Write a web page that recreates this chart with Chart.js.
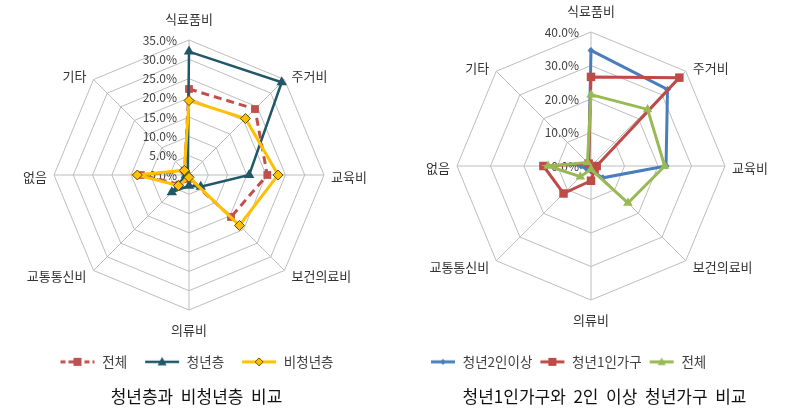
<!DOCTYPE html>
<html><head><meta charset="utf-8">
<script src="https://cdn.jsdelivr.net/npm/chart.js@4.4.0/dist/chart.umd.min.js"></script>
<style>
html,body{margin:0;padding:0;background:#fff;}
#wrap{position:relative;width:786px;height:411px;overflow:hidden;}
.box{position:absolute;top:0;width:393px;height:411px;}
</style></head><body>
<div id="wrap">
<div class="box" style="left:0"><canvas id="c1"></canvas></div>
<div class="box" style="left:393px"><canvas id="c2"></canvas></div>
</div>
<script>
// ---- data ----
const categories = ['식료품비','주거비','교육비','보건의료비','의류비','교통통신비','없음','기타'];
const leftTicks = [0,5,10,15,20,25,30,35];
const rightTicks = [0,10,20,30,40];
const leftSeriesNames = ['전체','청년층','비청년층'];
const left_total    = [22.3,24.2,20.3,15.4,1.0,3.5,12.5,1.6];
const left_youth    = [32.0,34.0,15.6,4.3,2.8,6.3,0.8,0.5];
const left_nonyouth = [19.3,20.7,23.1,18.5,0.6,3.9,13.4,1.7];
const rightSeriesNames = ['청년2인이상','청년1인가구','전체'];
const right_multi  = [34.5,32.3,22.4,5.0,1.5,1.5,3.0,1.0];
const right_single = [26.6,37.3,1.7,1.5,4.4,11.6,14.2,1.0];
const right_total  = [21.3,23.9,22.0,15.6,1.0,4.5,12.8,1.5];
const leftCaption = '청년층과  비청년층  비교';
const rightCaption = '청년1인가구와  2인  이상  청년가구  비교';

const FONT = '"Noto Sans CJK KR", "Noto Sans", sans-serif';
const LEGEND_SIZE = 13.5;

function drawMarker(x, kind, cx, cy, r, fill, stroke, bw) {
  x.fillStyle = fill; x.strokeStyle = stroke; x.lineWidth = bw;
  x.beginPath();
  if (kind === 'rect') { x.rect(cx-r, cy-r, 2*r, 2*r); }
  else if (kind === 'triangle') { x.moveTo(cx, cy-r*1.1); x.lineTo(cx+r, cy+r*0.8); x.lineTo(cx-r, cy+r*0.8); x.closePath(); }
  else if (kind === 'rectRot') { x.moveTo(cx, cy-r); x.lineTo(cx+r, cy); x.lineTo(cx, cy+r); x.lineTo(cx-r, cy); x.closePath(); }
  x.fill(); if (bw > 0) x.stroke();
}
function icon(w, color, dash, lw, kind, r, fill, stroke, bw) {
  const c = document.createElement('canvas'); c.width = w; c.height = 14;
  const x = c.getContext('2d');
  x.strokeStyle = color; x.lineWidth = lw; x.setLineDash(dash);
  x.beginPath(); x.moveTo(1, 7); x.lineTo(w - 1, 7); x.stroke();
  x.setLineDash([]);
  drawMarker(x, kind, w / 2, 7, r, fill, stroke, bw);
  return c;
}

// empty layout box on the right, to shift the plot area without moving legend/caption
function spacer(width) {
  return { id: 'spacer', beforeInit(chart) {
    Chart.layouts.addBox(chart, {
      position: 'right', weight: 0, fullSize: false, options: {},
      width: 0, height: 0,
      update(maxW, maxH) { this.width = width; this.height = maxH; },
      isHorizontal() { return false; },
      draw() {}
    });
  }};
}

function manualLabels(ticksArr) {
  return {
    id: 'manualLabels',
    beforeDatasetsDraw(chart) {
      const s = chart.scales.r, ctx = chart.ctx, R = s.drawingArea;
      ctx.save();
      ctx.font = '12px ' + FONT;
      ctx.fillStyle = '#404040'; ctx.textAlign = 'right'; ctx.textBaseline = 'middle';
      ticksArr.forEach(v => {
        const d = s.getDistanceFromCenterForValue(v);
        ctx.fillText(v.toFixed(1) + '%', s.xCenter - 12, s.yCenter - d);
      });
      ctx.font = '13px ' + FONT; ctx.fillStyle = '#333';
      categories.forEach((lab, i) => {
        const p = s.getPointPosition(i, R);
        let x = p.x, y = p.y, align;
        const dx = p.x - s.xCenter, dy = p.y - s.yCenter;
        if (Math.abs(dx) < 1) { align = 'center'; y += (dy < 0 ? -21 : 20); }
        else {
          align = dx > 0 ? 'left' : 'right';
          x += dx > 0 ? 7 : -7;
          y += Math.abs(dy) < 1 ? 2 : (dy < 0 ? -3 : 6);
        }
        ctx.textAlign = align; ctx.fillText(lab, x, y);
      });
      ctx.restore();
    }
  };
}

function makeChart(id, ticksArr, maxV, datasets, icons, iconW, legPad, legGap, legAlign, caption, pad, spaceRight) {
  return new Chart(document.getElementById(id), {
    type: 'radar',
    data: { labels: categories, datasets },
    plugins: [manualLabels(ticksArr), spacer(spaceRight)],
    options: {
      responsive: true, maintainAspectRatio: false, animation: false,
      layout: { padding: pad },
      elements: { line: { tension: 0, fill: false } },
      scales: { r: {
        min: 0, max: maxV,
        afterBuildTicks: s => { s.ticks = ticksArr.map(v => ({ value: v })); },
        ticks: { display: false },
        grid: { color: '#BDBDBD', lineWidth: 1 },
        angleLines: { color: '#BDBDBD', lineWidth: 1 },
        pointLabels: { display: false }
      } },
      plugins: {
        tooltip: { enabled: false },
        legend: {
          position: 'bottom', align: legAlign,
          title: { display: true, text: '', font: { size: 10 }, padding: { top: 0, bottom: legGap } },
          labels: {
            usePointStyle: true, pointStyleWidth: iconW, padding: legPad,
            font: { size: LEGEND_SIZE, family: FONT }, color: '#404040',
            sort: (a, b) => a.datasetIndex - b.datasetIndex,
            generateLabels: chart => Chart.defaults.plugins.legend.labels.generateLabels(chart)
              .map(it => Object.assign(it, { pointStyle: icons[it.datasetIndex] }))
          }
        },
        title: {
          display: true, position: 'bottom', text: caption,
          font: { size: 17, family: FONT, weight: 'normal' }, color: '#111',
          padding: { top: 8, bottom: 4 }
        }
      }
    }
  });
}

const leftIcons = [
  icon(36, '#C0504D', [5,3], 3, 'rect', 4, '#C0504D', '#C0504D', 0),
  icon(36, '#215868', [], 2.5, 'triangle', 4.5, '#215868', '#215868', 0),
  icon(36, '#FFC000', [], 3, 'rectRot', 4, '#FFC000', '#5F4B00', 1)
];
// legend item height grows by 1 with the larger font: reduce the spacer title by 1
makeChart('c1', leftTicks, 35, [
  { label: leftSeriesNames[0], data: left_total, borderColor: '#C0504D', borderWidth: 3, borderDash: [8,5],
    pointStyle: 'rect', pointRadius: 5.5, pointBackgroundColor: '#C0504D', pointBorderColor: '#C0504D', pointBorderWidth: 0, order: 2 },
  { label: leftSeriesNames[1], data: left_youth, borderColor: '#215868', borderWidth: 2.5,
    pointStyle: 'triangle', pointRadius: 6, pointBackgroundColor: '#215868', pointBorderColor: '#215868', pointBorderWidth: 0, order: 1 },
  { label: leftSeriesNames[2], data: left_nonyouth, borderColor: '#FFC000', borderWidth: 3,
    pointStyle: 'rectRot', pointRadius: 5, pointBackgroundColor: '#FFC000', pointBorderColor: '#5F4B00', pointBorderWidth: 1, order: 0 }
], leftIcons, 36, 17, 16.1, 'center', leftCaption, { top: 40, bottom: 0, left: 0, right: 0 }, 15);

const rightIcons = [
  icon(26, '#4A7EBB', [], 3, 'rectRot', 3, '#4A7EBB', '#4A7EBB', 0),
  icon(26, '#BE4B48', [], 3, 'rect', 4, '#BE4B48', '#BE4B48', 0),
  icon(26, '#98B954', [], 3, 'triangle', 4, '#98B954', '#98B954', 0)
];
makeChart('c2', rightTicks, 40, [
  { label: rightSeriesNames[0], data: right_multi, borderColor: '#4A7EBB', borderWidth: 3,
    pointStyle: 'rectRot', pointRadius: 3.5, pointBackgroundColor: '#4A7EBB', pointBorderColor: '#4A7EBB', pointBorderWidth: 0, order: 2 },
  { label: rightSeriesNames[1], data: right_single, borderColor: '#BE4B48', borderWidth: 3,
    pointStyle: 'rect', pointRadius: 6, pointBackgroundColor: '#BE4B48', pointBorderColor: '#BE4B48', pointBorderWidth: 0, order: 1 },
  { label: rightSeriesNames[2], data: right_total, borderColor: '#98B954', borderWidth: 3,
    pointStyle: 'triangle', pointRadius: 5.5, pointBackgroundColor: '#98B954', pointBorderColor: '#98B954', pointBorderWidth: 0, order: 0 }
], rightIcons, 26, 7, 36.1, 'start', rightCaption, { top: 32, bottom: 0, left: 30, right: 0 }, 26);
</script>
</body></html>
